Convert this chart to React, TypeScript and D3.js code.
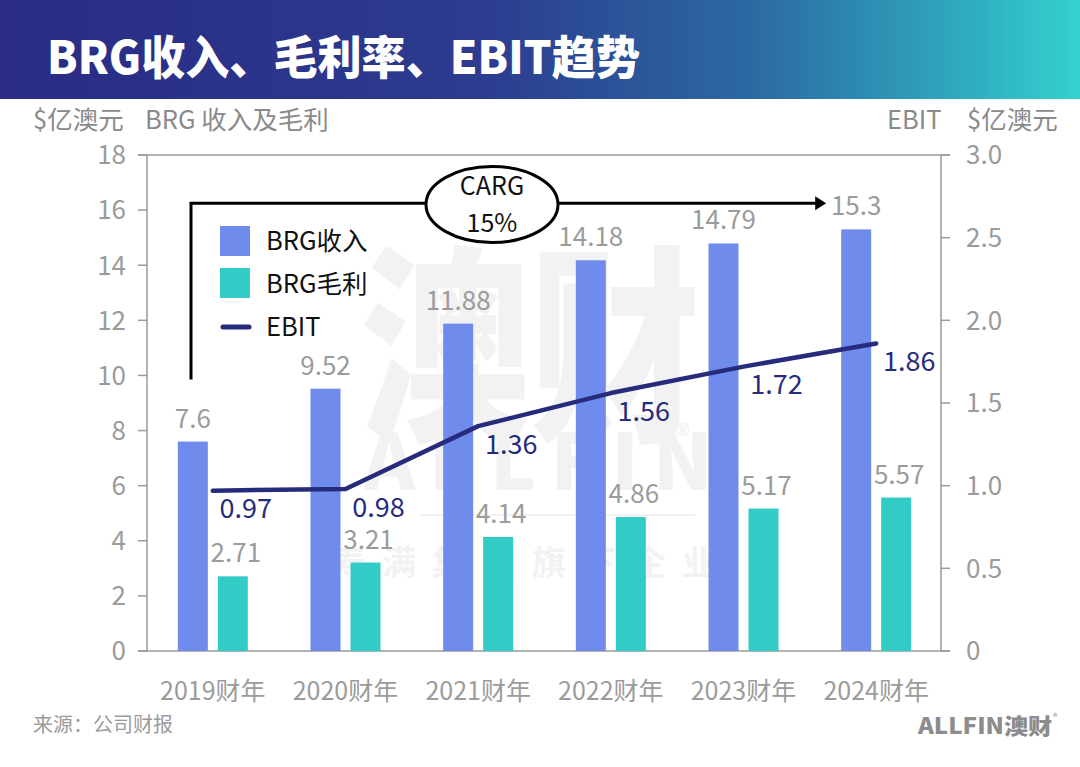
import React from "react";
import * as d3 from "d3";

const years = ["2019财年", "2020财年", "2021财年", "2022财年", "2023财年", "2024财年"];
const revenue = [7.6, 9.52, 11.88, 14.18, 14.79, 15.3];
const grossProfit = [2.71, 3.21, 4.14, 4.86, 5.17, 5.57];
const ebit = [0.97, 0.98, 1.36, 1.56, 1.72, 1.86];
const revenueLabels = ["7.6", "9.52", "11.88", "14.18", "14.79", "15.3"];
const profitLabels = ["2.71", "3.21", "4.14", "4.86", "5.17", "5.57"];
const ebitLabels = ["0.97", "0.98", "1.36", "1.56", "1.72", "1.86"];
const leftTicks = [0, 2, 4, 6, 8, 10, 12, 14, 16, 18];
const rightTicks = [0, 0.5, 1.0, 1.5, 2.0, 2.5, 3.0];
const rightTickLabels = ["0", "0.5", "1.0", "1.5", "2.0", "2.5", "3.0"];
const legendItems = ["BRG收入", "BRG毛利", "EBIT"];

const FONT = "'Noto Sans CJK SC', 'Noto Sans', sans-serif";
const BLUE = "#6f8bec";
const TEAL = "#33cbc6";
const NAVY = "#272b7c";
const AXIS = "#9a9a9a";
const LABEL = "#9b9b9b";

export default function App() {
  const W = 1080;
  const H = 767;
  const left = 146.5;
  const right = 942.5;
  const top = 155;
  const bottom = 651;

  const x = d3.scaleBand<string>().domain(years).range([left, right]);
  const yL = d3.scaleLinear().domain([0, 18]).range([bottom, top]);
  const yR = d3.scaleLinear().domain([0, 3]).range([bottom, top]);
  const cx = (i: number) => (x(years[i]) as number) + x.bandwidth() / 2;

  const line = d3
    .line<number>()
    .x((_, i) => cx(i))
    .y((d) => yR(d));

  const bw = 30;
  const axisLineX = 147;
  const axisRightX = 941;

  // CARG bracket
  const bracketX = 191;
  const bracketBottom = yL(9.85);
  const bracketY = yL(16.25);
  const arrowTip = cx(5) - 50;

  return (
    <div style={{ position: "absolute", left: 0, top: 0 }}>
      <svg width={W} height={H} style={{ display: "block", fontFamily: FONT }}>
        <defs>
          <linearGradient id="hdr" x1="0" x2="1" y1="0" y2="0">
            <stop offset="0%" stopColor="#292b84" />
            <stop offset="45%" stopColor="#2c3c8f" />
            <stop offset="70%" stopColor="#2b6aa3" />
            <stop offset="88%" stopColor="#2fa6bd" />
            <stop offset="100%" stopColor="#34d2cf" />
          </linearGradient>
        </defs>
        <rect x={0} y={0} width={W} height={H} fill="#ffffff" />
        <rect x={0} y={0} width={W} height={99} fill="url(#hdr)" />
        <text
          x={47}
          y={74}
          fill="#ffffff"
          fontSize={46}
          fontWeight={900}
          textLength={593}
          lengthAdjust="spacingAndGlyphs"
        >
          BRG收入、毛利率、EBIT趋势
        </text>

        {/* watermark */}
        <g fill="#f2f2f2">
          <text x={530} y={425} fontSize={210} fontWeight={900} textAnchor="middle" textLength={340} lengthAdjust="spacingAndGlyphs">
            澳财
          </text>
          <text x={545} y={490} fontSize={78} fontWeight={900} textAnchor="middle" letterSpacing={14}>
            ALLFIN
          </text>
          <text x={683} y={447} fontSize={30} textAnchor="middle">®</text>
          <rect x={420} y={514} width={275} height={2} />
          <text x={532} y={575} fontSize={34} fontWeight={700} textAnchor="middle" letterSpacing={16}>
            寿满集团旗下企业
          </text>
        </g>

        {/* axis titles */}
        <text x={33} y={129} fontSize={25.5} fill="#8a8a8a">$亿澳元</text>
        <text x={145} y={129} fontSize={25.5} fill="#8a8a8a">BRG 收入及毛利</text>
        <text x={887} y={129} fontSize={25.5} fill="#8a8a8a">EBIT</text>
        <text x={967} y={129} fontSize={25.5} fill="#8a8a8a">$亿澳元</text>

        {/* frame */}
        <line x1={138} x2={950} y1={top} y2={top} stroke={AXIS} strokeWidth={1.5} />
        <line x1={138} x2={950} y1={bottom} y2={bottom} stroke={AXIS} strokeWidth={1.5} />
        <line x1={axisLineX} x2={axisLineX} y1={top} y2={bottom} stroke={AXIS} strokeWidth={1.5} />
        <line x1={axisRightX} x2={axisRightX} y1={top} y2={bottom} stroke={AXIS} strokeWidth={1.5} />

        {leftTicks.map((t) => (
          <g key={"l" + t}>
            <line x1={138} x2={axisLineX} y1={yL(t)} y2={yL(t)} stroke={AXIS} strokeWidth={1.5} />
            <text x={126} y={yL(t)} dy="0.36em" textAnchor="end" fontSize={26} fill={LABEL}>
              {t}
            </text>
          </g>
        ))}
        {rightTicks.map((t, i) => (
          <g key={"r" + t}>
            <line x1={axisRightX} x2={950} y1={yR(t)} y2={yR(t)} stroke={AXIS} strokeWidth={1.5} />
            <text x={966} y={yR(t)} dy="0.36em" textAnchor="start" fontSize={26} fill={LABEL}>
              {rightTickLabels[i]}
            </text>
          </g>
        ))}

        {/* bars */}
        {years.map((yr, i) => (
          <g key={yr}>
            <rect x={cx(i) - 5 - bw} y={yL(revenue[i])} width={bw} height={bottom - yL(revenue[i])} fill={BLUE} />
            <rect x={cx(i) + 5} y={yL(grossProfit[i])} width={bw} height={bottom - yL(grossProfit[i])} fill={TEAL} />
            <text x={cx(i) - 5 - bw / 2} y={yL(revenue[i]) - 14} textAnchor="middle" fontSize={26} fill={LABEL}>
              {revenueLabels[i]}
            </text>
            <text x={cx(i) + 5 + bw / 2 + 3} y={yL(grossProfit[i]) - 14} textAnchor="middle" fontSize={26} fill={LABEL}>
              {profitLabels[i]}
            </text>
            <text x={cx(i)} y={700} textAnchor="middle" fontSize={25} fill={LABEL}>
              {yr}
            </text>
          </g>
        ))}

        {/* EBIT line */}
        <path d={line(ebit) || ""} fill="none" stroke={NAVY} strokeWidth={4.5} strokeLinejoin="round" strokeLinecap="round" />
        {ebit.map((v, i) => (
          <text key={"e" + i} x={cx(i) + 33} y={yR(v) + 18} dy="0.36em" textAnchor="middle" fontSize={27} fill={NAVY}>
            {ebitLabels[i]}
          </text>
        ))}

        {/* CARG bracket */}
        <path
          d={`M${bracketX},${bracketBottom} L${bracketX},${bracketY} L${arrowTip - 9},${bracketY}`}
          fill="none"
          stroke="#000"
          strokeWidth={3}
        />
        <path d={`M${arrowTip},${bracketY} L${arrowTip - 11},${bracketY - 7} L${arrowTip - 11},${bracketY + 7} Z`} fill="#000" />
        <ellipse cx={492} cy={204.5} rx={66} ry={38} fill="#fff" stroke="#000" strokeWidth={3} />
        <text x={492} y={186} dy="0.36em" textAnchor="middle" fontSize={25} fill="#111">CARG</text>
        <text x={492} y={223} dy="0.36em" textAnchor="middle" fontSize={25} fill="#111">15%</text>

        {/* legend */}
        <rect x={220} y={226} width={30} height={30} fill={BLUE} />
        <rect x={220} y={268} width={30} height={30} fill={TEAL} />
        <line x1={223} x2={249} y1={327} y2={327} stroke={NAVY} strokeWidth={5} strokeLinecap="round" />
        {legendItems.map((s, i) => (
          <text key={s} x={266} y={241 + i * 43} dy="0.36em" fontSize={25.5} fill="#111">
            {s}
          </text>
        ))}

        {/* footer */}
        <text x={33} y={732} fontSize={20} fill="#9b9b9b">来源：公司财报</text>
        <text x={1052} y={734} fontSize={22} fontWeight={900} fill="#8c8c8c" textAnchor="end" textLength={134} lengthAdjust="spacingAndGlyphs">
          ALLFIN澳财
        </text>
        <text x={1053} y={720} fontSize={9} fill="#8c8c8c">®</text>
      </svg>
    </div>
  );
}
